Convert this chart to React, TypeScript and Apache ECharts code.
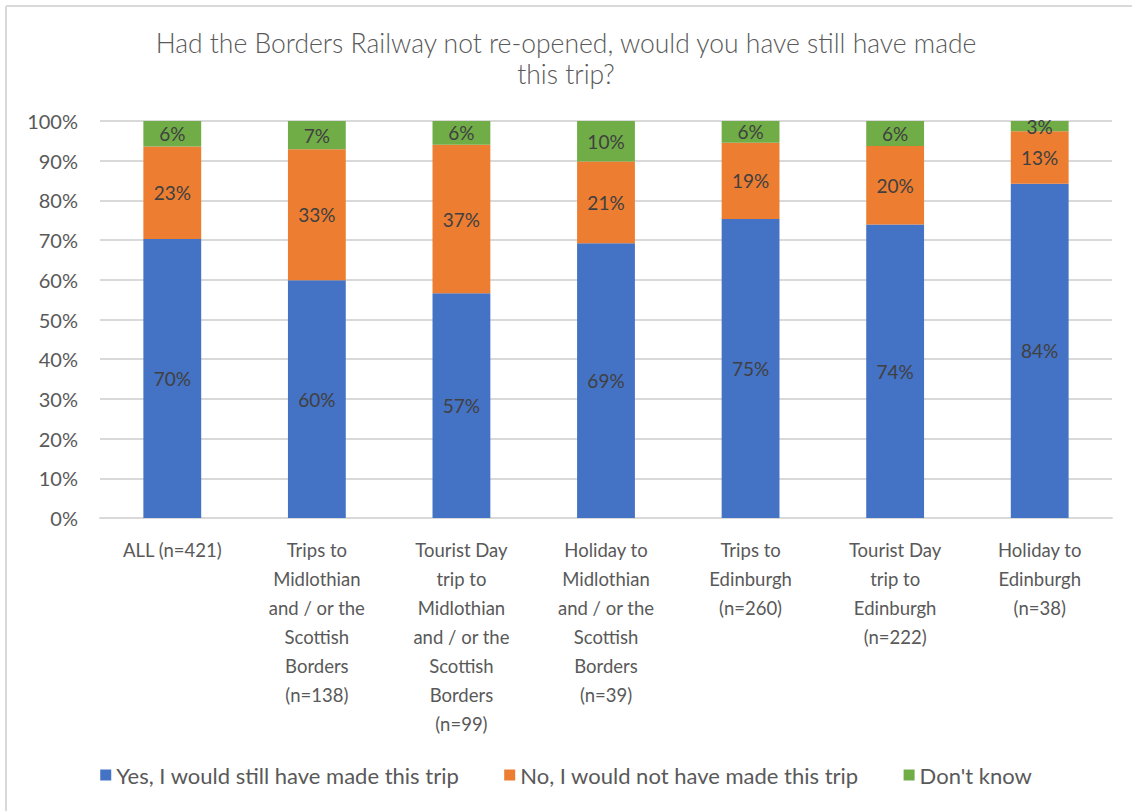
import React, { useEffect, useRef } from "react";
import * as echarts from "echarts";

const categories = [
  "ALL (n=421)",
  "Trips to\nMidlothian\nand / or the\nScottish\nBorders\n(n=138)",
  "Tourist Day\ntrip to\nMidlothian\nand / or the\nScottish\nBorders\n(n=99)",
  "Holiday to\nMidlothian\nand / or the\nScottish\nBorders\n(n=39)",
  "Trips to\nEdinburgh\n(n=260)",
  "Tourist Day\ntrip to\nEdinburgh\n(n=222)",
  "Holiday to\nEdinburgh\n(n=38)",
];
const yesValues = [70.3, 59.9, 56.6, 69.2, 75.3, 73.9, 84.2];
const noValues = [23.3, 33.0, 37.4, 20.6, 19.2, 19.8, 13.2];
const dontKnowValues = [6.4, 7.1, 6.0, 10.2, 5.5, 6.3, 2.6];
const seriesNames = [
  "Yes, I would still have made this trip",
  "No, I would not have made this trip",
  "Don't know",
];
const colors = ["#4472C4", "#ED7D31", "#70AD47"];
const titleText =
  "Had the Borders Railway not re-opened, would you have still have made\nthis trip?";

const FONT = "Lato, 'Open Sans', sans-serif";

export default function App() {
  const ref = useRef<HTMLDivElement>(null);
  useEffect(() => {
    if (!ref.current) return;
    const chart = echarts.init(ref.current, null, { renderer: "svg" });
    const mkSeries = (name: string, data: number[], color: string) => ({
      name,
      type: "bar",
      stack: "total",
      barWidth: "40%",
      data,
      itemStyle: { color },
      label: {
        show: true,
        position: "inside",
        formatter: (p: any) => Math.round(p.value) + "%",
        color: "#404040",
        fontSize: 19,
        fontFamily: FONT,
      },
    });
    chart.setOption({
      animation: false,
      backgroundColor: "#ffffff",
      title: {
        text: titleText,
        left: "center",
        top: 22,
        textStyle: {
          fontFamily: FONT,
          fontSize: 26.5,
          fontWeight: 300,
          color: "#595959",
          lineHeight: 31,
        },
      },
      legend: {
        bottom: 20,
        left: "center",
        itemWidth: 11,
        itemHeight: 11,
        itemGap: 45,
        icon: "rect",
        textStyle: { fontFamily: FONT, fontSize: 22, color: "#595959" },
        data: seriesNames,
      },
      grid: { left: 100, right: 20, top: 121, bottom: 293, containLabel: false },
      xAxis: {
        type: "category",
        data: categories,
        axisLine: { lineStyle: { color: "#d9d9d9", width: 2 } },
        axisTick: { show: false },
        axisLabel: {
          interval: 0,
          color: "#595959",
          fontFamily: FONT,
          fontSize: 18.5,
          lineHeight: 29,
          margin: 17,
          verticalAlign: "top",
        },
      },
      yAxis: {
        type: "value",
        min: 0,
        max: 100,
        interval: 10,
        axisLine: { show: false },
        axisTick: { show: false },
        splitLine: { lineStyle: { color: "#d9d9d9", width: 2 } },
        axisLabel: {
          formatter: "{value}%",
          color: "#595959",
          fontFamily: FONT,
          fontSize: 20,
          margin: 22,
        },
      },
      graphic: [
        {
          type: "line",
          shape: { x1: 6, y1: 6, x2: 1132, y2: 6 },
          style: { stroke: "#d9d9d9", lineWidth: 2 },
        },
        {
          type: "line",
          shape: { x1: 6, y1: 6, x2: 6, y2: 811 },
          style: { stroke: "#d9d9d9", lineWidth: 2 },
        },
      ],
      series: [
        mkSeries(seriesNames[0], yesValues, colors[0]),
        mkSeries(seriesNames[1], noValues, colors[1]),
        mkSeries(seriesNames[2], dontKnowValues, colors[2]),
      ],
    });
    return () => chart.dispose();
  }, []);
  return (
    <div
      ref={ref}
      style={{ position: "absolute", left: 0, top: 0, width: 1132, height: 811 }}
    />
  );
}
